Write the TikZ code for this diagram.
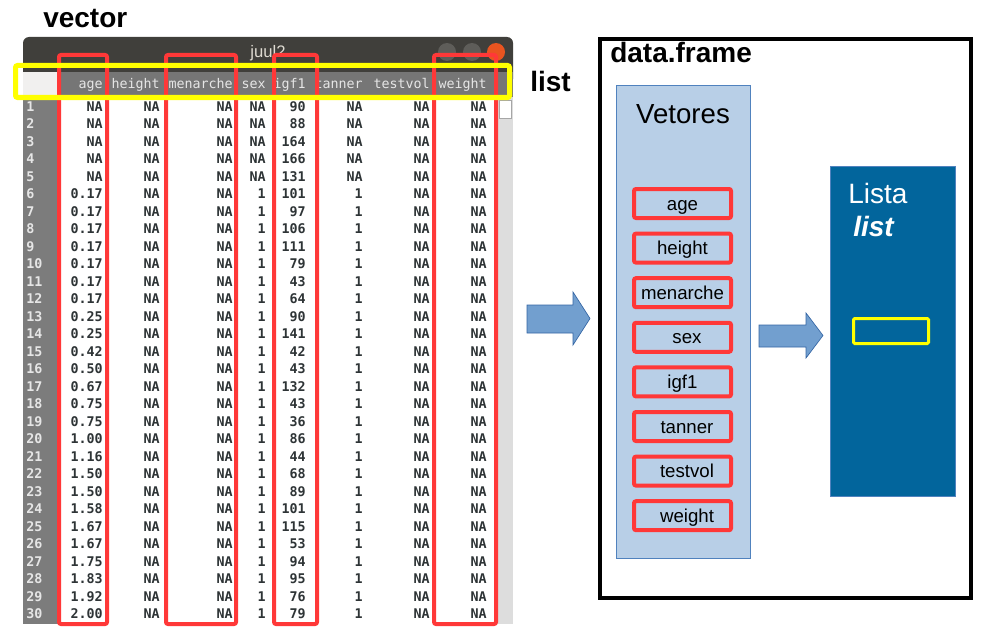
\documentclass[tikz,border=0pt]{standalone}
\usepackage{fontspec}
\setmainfont{Liberation Sans}
\setmonofont{DejaVu Sans Mono}
\usetikzlibrary{positioning}
\definecolor{redbox}{HTML}{FF3838}
\definecolor{yelbox}{HTML}{FFFF00}
\definecolor{titlebar}{HTML}{403F3B}
\definecolor{titletext}{HTML}{DFDBD2}
\definecolor{headbg}{HTML}{767676}
\definecolor{cornerbg}{HTML}{F1F0EF}
\definecolor{numbg}{HTML}{7C7C7C}
\definecolor{scrollbg}{HTML}{DDDDDD}
\definecolor{celltext}{HTML}{2E3436}
\definecolor{hdrtext}{HTML}{E6E6E6}
\definecolor{btngray}{HTML}{5E5D59}
\definecolor{btnclose}{HTML}{E95420}
\definecolor{arrowfill}{HTML}{729FCF}
\definecolor{arrowline}{HTML}{3465A4}
\definecolor{vecfill}{HTML}{B8CFE7}
\definecolor{vecline}{HTML}{5082BE}
\definecolor{listfill}{HTML}{02659C}

\begin{document}
\begin{tikzpicture}[x=0.75pt,y=-0.75pt,
	cell/.style={font=\ttfamily\bfseries\fontsize{10}{12}\selectfont, text=celltext, anchor=base east, inner sep=0pt},
	hdr/.style={font=\ttfamily\fontsize{10}{12}\selectfont, text=hdrtext, anchor=base east, inner sep=0pt},
	rownum/.style={font=\ttfamily\bfseries\fontsize{10}{12}\selectfont, text=hdrtext, anchor=base west, inner sep=0pt},
	vecbox/.style={draw=redbox, line width=3pt, rounded corners=1.5pt},
	listbox/.style={draw=yelbox, line width=3.75pt, rounded corners=1.5pt},
	biglabel/.style={font=\bfseries\fontsize{21}{25}\selectfont, inner sep=0pt},
	blockarrow/.style={fill=arrowfill, draw=arrowline, line width=0.5pt},
	item/.style={draw=redbox, line width=3pt, rounded corners=1.5pt, minimum width=72.75pt, minimum height=21.75pt,
		text height=10pt, text depth=0.2pt, inner sep=0pt, outer sep=0pt, font=\fontsize{14}{16}\selectfont}]
\useasboundingbox (0,0) rectangle (992,642);

% data viewer window
\fill[titlebar, rounded corners=4.5pt] (23,37) rectangle (513,85);
\fill[headbg] (60,72) rectangle (513,97);
\fill[cornerbg] (23,72) rectangle (60,97);
\fill[numbg] (23,97) rectangle (60,624);
\fill[white] (60,97) rectangle (497,622);
\fill[scrollbg] (497,97) rectangle (513,624);
\draw[gray!70, fill=white, line width=0.5pt] (499,100) rectangle (511,118);
\draw[gray!80!black, line width=0.75pt] (23,97) -- (497,97);
\node[font=\fontsize{12.5}{14}\selectfont, text=titletext] (wintitle) at (268,53) {juul2};
\foreach \bx/\bc in {447/btngray, 472/btngray, 496/btnclose}
	\fill[\bc] (\bx,52) circle[radius=9];

% header
\foreach \col/\xr in {age/103, height/160, menarche/233, sex/266, igf1/306, tanner/363, testvol/430, weight/487}
	\node[hdr] (h-\col) at (\xr,89) {\col};

% rows
\foreach \i/\age/\sx/\igf in {1/NA/NA/90, 2/NA/NA/88, 3/NA/NA/164, 4/NA/NA/166, 5/NA/NA/131,
	6/0.17/1/101, 7/0.17/1/97, 8/0.17/1/106, 9/0.17/1/111, 10/0.17/1/79, 11/0.17/1/43, 12/0.17/1/64,
	13/0.25/1/90, 14/0.25/1/141, 15/0.42/1/42, 16/0.50/1/43, 17/0.67/1/132, 18/0.75/1/43,
	19/0.75/1/36, 20/1.00/1/86, 21/1.16/1/44, 22/1.50/1/68, 23/1.50/1/89, 24/1.58/1/101,
	25/1.67/1/115, 26/1.67/1/53, 27/1.75/1/94, 28/1.83/1/95, 29/1.92/1/76, 30/2.00/1/79}
{
	\pgfmathsetmacro\ry{111+17.5*(\i-1)}
	\node[rownum] (n-\i) at (26,\ry) {\i};
	\node[cell] (age-\i) at (103,\ry) {\age};
	\node[cell] (height-\i) at (160,\ry) {NA};
	\node[cell] (menarche-\i) at (233,\ry) {NA};
	\node[cell] (sex-\i) at (266,\ry) {\sx};
	\node[cell] (igf1-\i) at (306,\ry) {\igf};
	\node[cell] (tanner-\i) at (363,\ry) {\sx};
	\node[cell] (testvol-\i) at (430,\ry) {NA};
	\node[cell] (weight-\i) at (487,\ry) {NA};
}

% highlighted vectors and the list row
\foreach \xl/\xr in {59/107, 166/236, 274/317, 434/496}
	\draw[vecbox] (\xl,55) rectangle (\xr,624);
\draw[listbox] (15.5,65.5) rectangle (509.5,97.5);
\node[biglabel, anchor=base west] (vec-lbl) at (43,28) {vector};
\node[biglabel, anchor=base west] (list-lbl) at (530,91) {list};

% block arrows
\filldraw[blockarrow] (527,305) -- (573,305) -- (573,292) -- (590,318.5) -- (573,345) -- (573,333) -- (527,333) -- cycle;
\filldraw[blockarrow] (759,325) -- (806,325) -- (806,313) -- (823,335.5) -- (806,358) -- (806,347) -- (759,347) -- cycle;

% data.frame
\node[draw, line width=3pt, minimum width=278.25pt, minimum height=419.25pt, inner sep=0pt, outer sep=0pt] (df) at (785.5,318.5) {};
\node[biglabel, anchor=base west] (df-lbl) at (610,63) {data.frame};
\node[fill=vecfill, draw=vecline, line width=0.75pt, minimum width=100.5pt, minimum height=354pt, inner sep=0pt] (vetores) at (683,322) {};
\node[font=\fontsize{20.7}{24}\selectfont, anchor=base, inner sep=0pt] (vet-lbl) at (683,123) {Vetores};
\foreach \name/\pad [count=\k] in {age/0pt, height/0pt, menarche/0pt, sex/6.75pt, igf1/0pt, tanner/6.75pt, testvol/6.75pt, weight/6.75pt}
	\node[item] (v-\name) at (682.5,{203.5+44.6*(\k-1)}) {\hspace*{\pad}\name};

\node[fill=listfill, draw=vecline, line width=0.75pt, minimum width=93.75pt, minimum height=247.5pt, inner sep=0pt] (lista) at (892.5,331) {};
\node[font=\fontsize{21}{25}\selectfont, text=white, anchor=base west, inner sep=0pt] (lista-lbl) at (848,203) {Lista};
\node[font=\bfseries\itshape\fontsize{21}{25}\selectfont, text=white, anchor=base west, inner sep=0pt] (lista-sub) at (853,236) {list};
\node[draw=yelbox, line width=2.25pt, rounded corners=1pt, minimum width=56.25pt, minimum height=18.75pt, inner sep=0pt] (slot) at (891,331) {};
\end{tikzpicture}
\end{document}
